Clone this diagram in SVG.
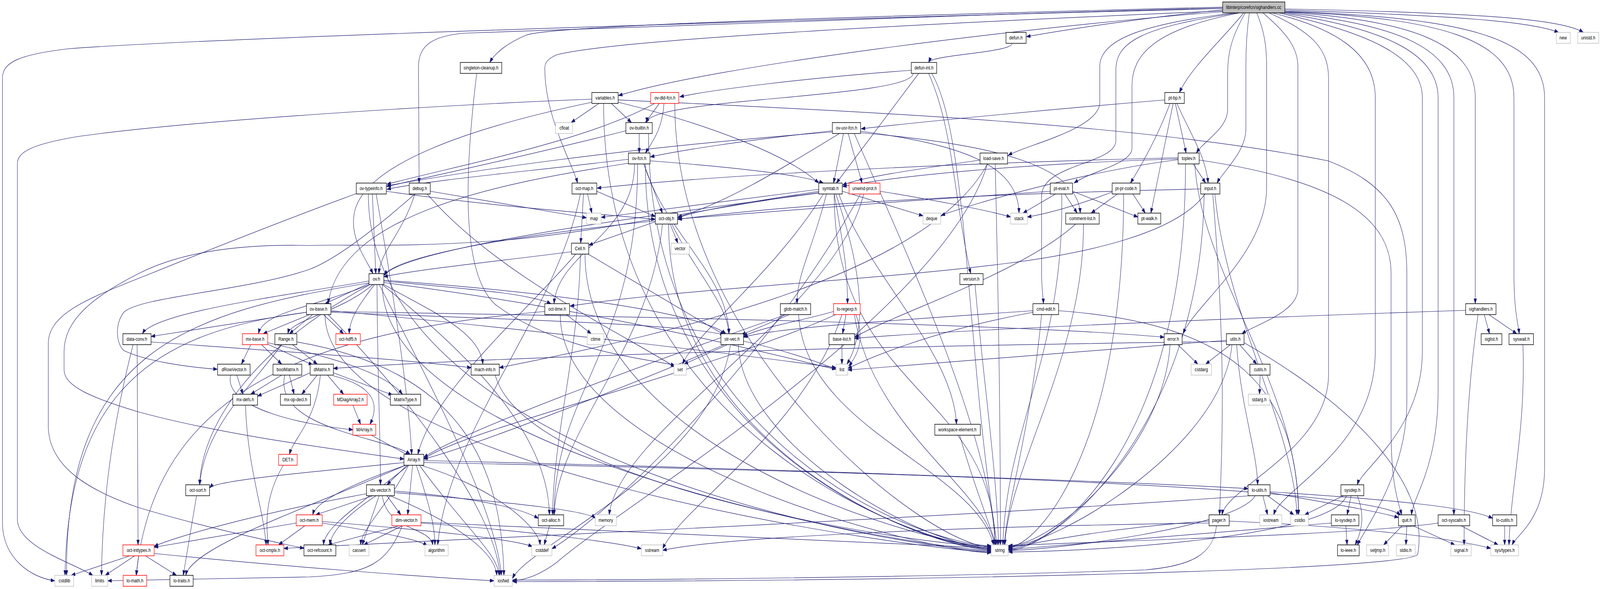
<svg xmlns="http://www.w3.org/2000/svg" width="5169" height="1509" viewBox="0 0 5169 1509" preserveAspectRatio="none">
<style>
svg{width:100vw;height:100vh}
.edges path{fill:none;stroke:#191970;stroke-width:1.2;marker-end:url(#a)}
.node rect{stroke-width:1.5;fill:#fff}
.k{stroke:#000}
.g{stroke:#bfbfbf}
.r{stroke:#ff0000}
.root rect{fill:#bfbfbf;stroke:#000}
.node text{font-family:"Liberation Sans",Arial,sans-serif;font-size:13px;text-anchor:middle;fill:#000}
</style>
<defs>
<marker id="a" markerWidth="14" markerHeight="10" refX="13" refY="5" orient="auto" markerUnits="userSpaceOnUse">
<path d="M0,0.5 L13,5 L0,9.5 z" fill="#191970" stroke="#191970" stroke-width="1"/>
</marker>
</defs>
<rect width="5169" height="1509" fill="#fff"/>
<g id="edges" class="edges">
<path d="M3950,22 C2800,45 700,95 220,125 C60,140 8,160 8,200 L8,1340 C8,1430 100,1480 177,1488"/>
<path d="M4110,33 C4300,70 4443,130 4443,250 L4443,900 C4443,1150 4140,1250 4115,1319"/>
<path d="M4151,26 C4700,40 4950,55 5035,83"/>
<path d="M4151,29 C4750,45 4990,100 4990,250 L4990,1200 C4990,1330 4900,1370 4885,1396"/>
<path d="M4151,23 C4800,33 5050,50 5115,83"/>
<path d="M4000,33 C3680,70 3605,110 3605,180 L3605,360 C3605,420 3370,420 3365,500 L3365,700 C3365,740 3370,760 3371,778"/>
<path d="M4145,32 C4500,60 4697,120 4697,250 L4697,1319"/>
<path d="M4140,33 C4450,70 4646,130 4646,250 L4646,1000 C4646,1200 4565,1270 4560,1319"/>
<path d="M3950,18 C3000,38 1800,62 1700,90 C1640,110 1600,135 1582,160"/>
<path d="M3950,20 C3000,42 1800,70 1500,85 C1400,92 1352,115 1352,170 L1354,469"/>
<path d="M3950,25 C3700,45 3450,75 3316,94"/>
<path d="M4060,33 C4085,80 4092,120 4092,170 L4092,480 C4092,650 3860,780 3822,855"/>
<path d="M4036,33 C4028,80 4025,130 4025,170 L4025,330 C4025,390 3950,440 3932,469"/>
<path d="M3990,33 C3700,60 3553,100 3553,170 L3553,262 C3553,330 3320,370 3257,398"/>
<path d="M3950,28 C3000,60 2000,100 1800,140 C1770,150 1760,160 1760,175 C1760,300 1850,420 1866,469"/>
<path d="M4100,33 C4230,80 4292,120 4292,200 L4292,960 C4292,1150 3960,1250 3948,1319"/>
<path d="M4018,33 C3950,100 3850,170 3810,237"/>
<path d="M4005,33 C3730,75 3657,140 3657,220 L3657,380 C3657,420 3520,440 3470,469"/>
<path d="M4148,31 C4550,50 4766,110 4766,250 L4766,778"/>
<path d="M4130,33 C4400,80 4595,140 4595,250 L4595,900 C4595,1100 4400,1200 4385,1242"/>
<path d="M4150,30 C4650,45 4891,100 4891,250 L4891,700 C4891,800 4905,830 4908,855"/>
<path d="M4023,33 C3975,100 3966,140 3966,190 L3966,280 C3966,330 3890,360 3865,392"/>
<path d="M4080,33 C4150,80 4193,120 4193,170 L4193,740 C4193,800 4060,830 4012,855"/>
<path d="M3950,30 C3300,70 2300,170 1998,245"/>
<path d="M3270,111 C3270,135 3010,140 3000,160"/>
<path d="M2950,188 C2950,251 2090,251 2090,314"/>
<path d="M2944,180 C2600,200 2300,230 2196,248"/>
<path d="M2968,188 L2702,469"/>
<path d="M3000,188 C3080,330 3080,500 3136,701"/>
<path d="M3010,188 C3130,350 3120,900 3222,1396"/>
<path d="M1540,188 C1500,450 1490,700 1600,780 C1800,900 2100,920 2180,936"/>
<path d="M1912,254 C1400,270 600,310 250,350 C100,370 56,390 56,420 L56,1330 C56,1400 230,1440 300,1474"/>
<path d="M1912,262 C1500,330 1200,420 1150,530 C1120,600 1180,660 1205,701"/>
<path d="M1935,265 L1845,314"/>
<path d="M1975,265 L2040,314"/>
<path d="M1997,262 C2300,320 2550,400 2645,469"/>
<path d="M1950,265 C1950,1124 3000,1404 3202,1404"/>
<path d="M1997,256 C2900,290 3700,320 4290,412 C4480,470 4545,550 4545,700 L4545,1030 C4545,1200 4430,1330 4385,1396"/>
<path d="M2115,265 C1900,360 1500,420 1250,472"/>
<path d="M2130,265 L2085,314"/>
<path d="M2145,265 C2140,330 2110,360 2085,392"/>
<path d="M2180,265 C2180,900 3000,1402 3202,1402"/>
<path d="M2022,335 C1700,400 1400,450 1250,478"/>
<path d="M2065,342 L2065,392"/>
<path d="M2095,342 C2095,1150 3000,1398 3202,1398"/>
<path d="M3763,256 C3400,280 3000,310 2782,330"/>
<path d="M3780,265 C3740,350 3690,420 3652,469"/>
<path d="M3790,265 L3718,546"/>
<path d="M3797,265 L3832,392"/>
<path d="M3802,265 C3850,350 3895,400 3903,469"/>
<path d="M2030,408 C1700,440 1400,460 1250,485"/>
<path d="M2032,418 C1600,470 1100,550 1060,778"/>
<path d="M2050,420 C2050,600 1800,650 1790,778"/>
<path d="M2080,420 C2150,600 2350,700 2355,855"/>
<path d="M2060,420 C2060,900 1790,1000 1790,1319"/>
<path d="M2080,420 L2140,546"/>
<path d="M2100,412 C2400,430 2600,450 2660,469"/>
<path d="M2085,420 C2085,1150 3000,1406 3202,1406"/>
<path d="M2690,335 C2400,360 2200,385 2101,402"/>
<path d="M2690,338 C2000,380 1500,440 1250,476"/>
<path d="M2725,342 L2693,469"/>
<path d="M2740,342 L2785,469"/>
<path d="M2712,342 C2550,420 2350,520 2190,556"/>
<path d="M2780,336 C3100,370 3290,420 3292,546"/>
<path d="M2780,340 C3200,370 3480,420 3490,546"/>
<path d="M2760,342 C2900,600 3200,1100 3215,1396"/>
<path d="M3166,410 C3000,430 2800,450 2722,474"/>
<path d="M3190,420 C3050,800 2000,1300 1800,1440 C1750,1470 1700,1486 1656,1488"/>
<path d="M3215,420 C3230,900 3232,1200 3232,1396"/>
<path d="M3190,420 C3000,700 2200,850 1613,942"/>
<path d="M3860,420 C3880,700 4200,1000 4195,1319"/>
<path d="M3806,409 C3500,440 3150,520 3040,552"/>
<path d="M3830,420 C3830,1150 3400,1406 3258,1406"/>
<path d="M3874,410 C4300,460 4494,550 4494,700 L4494,1100 C4494,1250 4520,1290 4528,1319"/>
<path d="M3855,420 L3895,469"/>
<path d="M3806,404 C3000,420 2300,450 1929,482"/>
<path d="M3806,407 C3300,420 2900,450 2722,478"/>
<path d="M3925,497 C3960,800 4180,1100 4190,1319"/>
<path d="M3890,497 C3880,1100 3400,1410 3258,1410"/>
<path d="M3893,497 C3800,600 3500,650 3250,675 C2800,720 2200,740 1842,784"/>
<path d="M3879,484 C3000,500 2500,530 2190,562"/>
<path d="M3918,497 C3960,900 3950,1100 3940,1319"/>
<path d="M1390,490 L1895,558"/>
<path d="M1380,497 C1600,700 2000,850 2180,940"/>
<path d="M1340,497 C1300,600 1230,640 1224,701"/>
<path d="M1339,498 C1250,560 1100,660 1000,690 C800,745 450,760 400,800 C370,830 375,880 400,898 C470,925 600,940 702,946"/>
<path d="M1898,497 L1912,546"/>
<path d="M1928,490 L2117,555"/>
<path d="M1885,497 L1876,623"/>
<path d="M1875,497 C1800,800 1450,1100 1414,1396"/>
<path d="M1203,497 L1214,701"/>
<path d="M1215,497 C1260,700 1320,1000 1330,1164"/>
<path d="M1248,490 C1600,530 1900,545 2117,562"/>
<path d="M1190,497 C1190,1200 3000,1412 3202,1412"/>
<path d="M1151,496 C1000,540 800,600 480,703 C300,760 156,800 156,880 L156,1091 C156,1200 300,1260 446,1300 C700,1360 900,1390 982,1405"/>
<path d="M2721,490 L2982,553"/>
<path d="M2700,497 C2790,700 2800,850 2736,933"/>
<path d="M2645,485 C2300,520 2100,540 1942,557"/>
<path d="M2660,497 C2500,700 2250,850 2205,933"/>
<path d="M2695,497 C2695,1000 3210,1000 3215,1396"/>
<path d="M2670,497 C2620,650 2575,700 2575,778"/>
<path d="M2695,497 C2730,650 2738,700 2738,778"/>
<path d="M2645,490 C2400,520 2250,540 2190,558"/>
<path d="M2710,497 C2800,700 3080,900 3090,1087"/>
<path d="M2645,493 C2300,530 1900,600 1600,617 C1300,635 1100,625 1000,629 C800,625 600,640 450,700 C300,760 207,820 207,900 L207,948 C207,990 300,1020 446,1055 C700,1110 1000,1142 1305,1176"/>
<path d="M2645,495 C2000,560 1300,640 1240,706"/>
<path d="M2843,490 C3000,510 3200,540 3265,556"/>
<path d="M2780,497 C2500,900 2000,1300 1783,1406"/>
<path d="M2790,497 C2700,800 2000,1100 1968,1319"/>
<path d="M3393,490 C3000,510 2500,540 2190,561"/>
<path d="M3410,497 L3305,546"/>
<path d="M3440,497 L3480,546"/>
<path d="M3465,490 L3676,556"/>
<path d="M3430,497 C3440,900 3250,1100 3240,1396"/>
<path d="M3593,492 C3500,520 3400,545 3319,556"/>
<path d="M3610,497 L3525,546"/>
<path d="M3660,497 L3700,546"/>
<path d="M3630,497 C3630,1150 3350,1402 3258,1402"/>
<path d="M3475,574 C3300,700 2900,800 2761,864"/>
<path d="M3500,574 C3505,900 3260,1200 3246,1396"/>
<path d="M3150,729 C3180,1000 3220,1200 3226,1396"/>
<path d="M2160,574 C2160,1150 3000,1408 3202,1408"/>
<path d="M2165,574 L2190,623"/>
<path d="M2140,574 C2100,900 1800,1100 1790,1319"/>
<path d="M2170,574 C2250,700 2350,780 2355,855"/>
<path d="M2117,568 L1902,628"/>
<path d="M2117,566 C1700,600 1300,650 1240,704"/>
<path d="M1890,651 C1890,1150 3000,1400 3202,1400"/>
<path d="M1860,651 C1700,800 1400,1000 1350,1164"/>
<path d="M1875,651 C1870,900 1790,1100 1785,1319"/>
<path d="M1900,651 L2340,858"/>
<path d="M1846,645 C1600,670 1350,690 1240,709"/>
<path d="M1192,725 C600,800 210,900 215,1474"/>
<path d="M1225,729 C1400,1000 1600,1300 1620,1474"/>
<path d="M1235,729 C1235,1180 3000,1410 3202,1410"/>
<path d="M1240,724 C2000,800 2600,930 2701,946"/>
<path d="M1205,729 C1100,800 940,820 930,855"/>
<path d="M1192,720 C900,760 500,800 460,855"/>
<path d="M1218,729 C1220,1000 1229,1100 1229,1242"/>
<path d="M1240,729 C1400,800 1550,850 1560,933"/>
<path d="M1195,729 C1000,790 850,800 835,855"/>
<path d="M1235,729 C1500,900 1770,1100 1775,1319"/>
<path d="M1240,720 C1500,740 1700,750 1780,778"/>
<path d="M1240,718 C1800,750 2250,800 2345,855"/>
<path d="M1210,729 C1150,790 1130,820 1128,855"/>
<path d="M1195,729 C800,900 650,1100 645,1242"/>
<path d="M1195,725 L1050,778"/>
<path d="M990,800 C500,850 220,1000 210,1474"/>
<path d="M1060,806 C1300,1000 1600,1300 1615,1474"/>
<path d="M1069,796 C1800,850 2500,920 2701,942"/>
<path d="M1050,806 C1050,1200 3000,1414 3202,1414"/>
<path d="M1010,806 L935,855"/>
<path d="M990,800 L488,862"/>
<path d="M1000,806 L850,855"/>
<path d="M1069,800 C1700,820 2200,830 2340,858"/>
<path d="M1069,798 C2000,810 3300,830 3761,864"/>
<path d="M1045,806 L1110,855"/>
<path d="M1830,806 L1910,855"/>
<path d="M1810,806 C1810,1180 3000,1416 3202,1416"/>
<path d="M1760,798 C1000,850 500,1000 440,1474"/>
<path d="M2540,806 C2200,900 1500,1100 1369,1172"/>
<path d="M2550,806 L2395,858"/>
<path d="M2580,806 C2600,1100 3150,1200 3210,1396"/>
<path d="M2765,806 C2790,860 2780,900 2742,938"/>
<path d="M2720,806 C2600,1100 2200,1300 2141,1406"/>
<path d="M2760,806 C2820,1100 3180,1250 3214,1396"/>
<path d="M2700,806 C2300,950 1500,1100 1369,1176"/>
<path d="M2733,806 L2722,855"/>
<path d="M2693,798 C2600,820 2450,840 2402,862"/>
<path d="M3420,796 C4000,830 4190,1000 4195,1319"/>
<path d="M3337,800 C3000,850 2800,920 2739,944"/>
<path d="M3365,806 C3330,1100 3250,1300 3245,1396"/>
<path d="M3337,796 C2900,820 2500,840 2402,864"/>
<path d="M4735,795 C3800,820 3000,850 2761,867"/>
<path d="M4795,806 L4812,855"/>
<path d="M4810,806 L4900,855"/>
<path d="M4775,806 C4740,1000 4730,1200 4730,1396"/>
<path d="M430,883 C360,1100 330,1300 328,1474"/>
<path d="M443,883 L446,1396"/>
<path d="M488,876 C900,900 1300,920 1522,942"/>
<path d="M810,883 L780,933"/>
<path d="M845,883 L910,933"/>
<path d="M860,880 L1010,935"/>
<path d="M865,878 C1100,920 1250,960 1300,1010"/>
<path d="M945,883 L1025,933"/>
<path d="M910,883 C800,1000 660,1100 645,1242"/>
<path d="M959,876 C1500,950 1620,1200 1628,1474"/>
<path d="M2360,883 C2300,1200 1700,1400 1656,1482"/>
<path d="M2402,874 C2550,900 2650,930 2701,946"/>
<path d="M2350,883 L2210,933"/>
<path d="M2385,883 C2400,1150 3000,1404 3202,1404"/>
<path d="M2340,883 C2000,1000 1500,1150 1369,1176"/>
<path d="M2720,883 L2720,933"/>
<path d="M3805,883 L3870,933"/>
<path d="M3780,883 C3760,1150 3400,1398 3258,1398"/>
<path d="M3975,883 L3895,933"/>
<path d="M4005,883 L4060,933"/>
<path d="M3995,883 C4010,1050 4060,1150 4063,1242"/>
<path d="M4019,878 C4400,1050 4620,1250 4580,1420 C4560,1460 3000,1490 1656,1490"/>
<path d="M3962,872 C3500,900 3000,930 2739,948"/>
<path d="M3980,883 C3950,1150 3400,1400 3258,1400"/>
<path d="M3962,875 C2500,890 1500,920 1077,944"/>
<path d="M4920,883 C4930,1100 4880,1250 4875,1396"/>
<path d="M765,961 L785,1010"/>
<path d="M745,961 C720,1050 1000,1090 1140,1101"/>
<path d="M910,961 L810,1010"/>
<path d="M935,961 L950,1010"/>
<path d="M920,961 C880,1100 1250,1120 1325,1164"/>
<path d="M1002,955 L832,1015"/>
<path d="M1025,961 L975,1010"/>
<path d="M1058,961 L1110,1010"/>
<path d="M1077,963 C1215,990 1225,1040 1195,1087"/>
<path d="M1077,955 L1268,1012"/>
<path d="M1035,961 C1020,1080 950,1120 935,1164"/>
<path d="M1600,961 C1700,1250 3000,1400 3202,1400"/>
<path d="M4071,961 L4069,1010"/>
<path d="M793,1038 C800,1200 850,1300 860,1396"/>
<path d="M1140,1038 L1165,1087"/>
<path d="M1200,1115 L1322,1168"/>
<path d="M3100,1115 C3150,1250 3200,1350 3218,1396"/>
<path d="M915,1192 C850,1280 862,1350 866,1396"/>
<path d="M1320,1192 C1250,1300 1170,1350 1165,1396"/>
<path d="M1360,1192 C1600,1250 1740,1350 1745,1396"/>
<path d="M1345,1192 C1390,1300 1405,1350 1405,1396"/>
<path d="M1355,1192 C1500,1350 1610,1420 1612,1474"/>
<path d="M1305,1185 C1000,1210 700,1230 677,1250"/>
<path d="M1315,1192 L1250,1242"/>
<path d="M1333,1192 L1317,1319"/>
<path d="M1310,1192 C1000,1300 620,1400 600,1474"/>
<path d="M1369,1180 C2500,1200 3800,1240 4032,1252"/>
<path d="M1369,1185 C3000,1210 4400,1250 4525,1319"/>
<path d="M1310,1192 C1100,1250 1020,1290 1010,1319"/>
<path d="M1320,1192 C1150,1300 1050,1350 1045,1396"/>
<path d="M1225,1270 L1170,1396"/>
<path d="M1235,1270 C1250,1360 1390,1350 1398,1396"/>
<path d="M1260,1270 C1500,1350 1600,1420 1605,1474"/>
<path d="M1274,1262 C1700,1290 1900,1310 1923,1328"/>
<path d="M1250,1270 L1295,1319"/>
<path d="M1184,1265 C800,1320 550,1380 498,1400"/>
<path d="M1274,1258 C1600,1280 1700,1310 1739,1328"/>
<path d="M1205,1270 L1020,1319"/>
<path d="M1215,1270 C1100,1330 1070,1370 1065,1396"/>
<path d="M635,1270 L592,1474"/>
<path d="M4080,1270 L4095,1319"/>
<path d="M4095,1270 L4180,1319"/>
<path d="M4103,1262 C4300,1290 4450,1310 4518,1326"/>
<path d="M4103,1260 C4500,1280 4750,1300 4822,1328"/>
<path d="M4055,1270 C4000,1350 3400,1410 3258,1410"/>
<path d="M4040,1270 C3000,1330 1500,1380 917,1405"/>
<path d="M4340,1270 L4215,1319"/>
<path d="M4350,1270 C4300,1380 3500,1414 3258,1414"/>
<path d="M4385,1270 C4410,1320 4400,1360 4378,1396"/>
<path d="M4365,1270 L4352,1319"/>
<path d="M985,1347 L900,1396"/>
<path d="M957,1340 L498,1402"/>
<path d="M1041,1340 C1200,1360 1350,1380 1380,1398"/>
<path d="M1041,1336 C1400,1360 1650,1380 1720,1400"/>
<path d="M1300,1347 L1175,1396"/>
<path d="M1290,1347 L1060,1396"/>
<path d="M1300,1347 C1250,1440 1200,1470 1000,1478 C700,1484 450,1486 348,1488"/>
<path d="M1360,1340 C1700,1360 2000,1390 2072,1406"/>
<path d="M1360,1338 C2000,1360 3000,1400 3202,1404"/>
<path d="M1775,1347 L1758,1396"/>
<path d="M3930,1347 C3920,1420 3850,1450 3700,1460 C3000,1480 2000,1486 1656,1486"/>
<path d="M3906,1340 C3000,1350 2300,1380 2141,1410"/>
<path d="M3906,1335 C3600,1350 3350,1390 3258,1404"/>
<path d="M3971,1335 C4400,1350 4700,1380 4816,1405"/>
<path d="M4301,1340 C3800,1370 3400,1400 3258,1408"/>
<path d="M4348,1347 L4352,1396"/>
<path d="M4530,1347 L4470,1396"/>
<path d="M4545,1347 L4542,1396"/>
<path d="M4565,1347 L4700,1396"/>
<path d="M4646,1340 C4400,1370 3600,1385 3258,1398"/>
<path d="M4720,1347 L4840,1396"/>
<path d="M4861,1347 L4861,1396"/>
<path d="M420,1424 L230,1474"/>
<path d="M435,1424 L340,1474"/>
<path d="M448,1424 L440,1474"/>
<path d="M470,1424 L570,1474"/>
<path d="M498,1418 C900,1450 1400,1480 1596,1488"/>
</g>
<g id="n-sighandlers-cc" class="node root"><rect x="3950" y="5" width="201" height="28"/><text x="4050" y="23.5">libinterp/corefcn/sighandlers.cc</text></g>
<g id="n-defun" class="node"><rect class="k" x="3250" y="83" width="65" height="28"/><text x="3282" y="101.5">defun.h</text></g>
<g id="n-new" class="node"><rect class="g" x="5028" y="83" width="45" height="28"/><text x="5050" y="101.5">new</text></g>
<g id="n-unistd" class="node"><rect class="g" x="5097" y="83" width="68" height="28"/><text x="5131" y="101.5">unistd.h</text></g>
<g id="n-singleton-cleanup" class="node"><rect class="k" x="1487" y="160" width="134" height="28"/><text x="1554" y="178.5">singleton-cleanup.h</text></g>
<g id="n-defun-int" class="node"><rect class="k" x="2944" y="160" width="82" height="28"/><text x="2985" y="178.5">defun-int.h</text></g>
<g id="n-variables" class="node"><rect class="k" x="1912" y="237" width="85" height="28"/><text x="1955" y="255.5">variables.h</text></g>
<g id="n-ov-dld-fcn" class="node"><rect class="r" x="2102" y="237" width="91" height="28"/><text x="2148" y="255.5">ov-dld-fcn.h</text></g>
<g id="n-pt-bp" class="node"><rect class="k" x="3763" y="237" width="63" height="28"/><text x="3795" y="255.5">pt-bp.h</text></g>
<g id="n-cfloat" class="node"><rect class="g" x="1795" y="314" width="55" height="28"/><text x="1823" y="332.5">cfloat</text></g>
<g id="n-ov-builtin" class="node"><rect class="k" x="2022" y="314" width="85" height="28"/><text x="2065" y="332.5">ov-builtin.h</text></g>
<g id="n-ov-usr-fcn" class="node"><rect class="k" x="2689" y="314" width="91" height="28"/><text x="2735" y="332.5">ov-usr-fcn.h</text></g>
<g id="n-ov-fcn" class="node"><rect class="k" x="2030" y="392" width="70" height="28"/><text x="2065" y="410.5">ov-fcn.h</text></g>
<g id="n-load-save" class="node"><rect class="k" x="3166" y="392" width="89" height="28"/><text x="3210" y="410.5">load-save.h</text></g>
<g id="n-toplev" class="node"><rect class="k" x="3806" y="392" width="68" height="28"/><text x="3840" y="410.5">toplev.h</text></g>
<g id="n-ov-typeinfo" class="node"><rect class="k" x="1151" y="469" width="97" height="28"/><text x="1199" y="487.5">ov-typeinfo.h</text></g>
<g id="n-debug" class="node"><rect class="k" x="1322" y="469" width="68" height="28"/><text x="1356" y="487.5">debug.h</text></g>
<g id="n-oct-map" class="node"><rect class="k" x="1848" y="469" width="80" height="28"/><text x="1888" y="487.5">oct-map.h</text></g>
<g id="n-symtab" class="node"><rect class="k" x="2645" y="469" width="76" height="28"/><text x="2683" y="487.5">symtab.h</text></g>
<g id="n-unwind-prot" class="node"><rect class="r" x="2743" y="469" width="100" height="28"/><text x="2793" y="487.5">unwind-prot.h</text></g>
<g id="n-pt-eval" class="node"><rect class="k" x="3393" y="469" width="72" height="28"/><text x="3429" y="487.5">pt-eval.h</text></g>
<g id="n-pt-pr-code" class="node"><rect class="k" x="3593" y="469" width="90" height="28"/><text x="3638" y="487.5">pt-pr-code.h</text></g>
<g id="n-input" class="node"><rect class="k" x="3879" y="469" width="62" height="28"/><text x="3910" y="487.5">input.h</text></g>
<g id="n-map" class="node"><rect class="g" x="1895" y="546" width="47" height="28"/><text x="1919" y="564.5">map</text></g>
<g id="n-oct-obj" class="node"><rect class="k" x="2117" y="546" width="72" height="28"/><text x="2153" y="564.5">oct-obj.h</text></g>
<g id="n-deque" class="node"><rect class="g" x="2982" y="546" width="57" height="28"/><text x="3010" y="564.5">deque</text></g>
<g id="n-stack" class="node"><rect class="g" x="3265" y="546" width="54" height="28"/><text x="3292" y="564.5">stack</text></g>
<g id="n-comment-list" class="node"><rect class="k" x="3443" y="546" width="108" height="28"/><text x="3497" y="564.5">comment-list.h</text></g>
<g id="n-pt-walk" class="node"><rect class="k" x="3676" y="546" width="74" height="28"/><text x="3713" y="564.5">pt-walk.h</text></g>
<g id="n-Cell" class="node"><rect class="k" x="1846" y="623" width="56" height="28"/><text x="1874" y="641.5">Cell.h</text></g>
<g id="n-vector" class="node"><rect class="g" x="2168" y="623" width="59" height="28"/><text x="2197" y="641.5">vector</text></g>
<g id="n-ov" class="node"><rect class="k" x="1192" y="701" width="48" height="28"/><text x="1216" y="719.5">ov.h</text></g>
<g id="n-version" class="node"><rect class="k" x="3101" y="701" width="75" height="28"/><text x="3138" y="719.5">version.h</text></g>
<g id="n-ov-base" class="node"><rect class="k" x="990" y="778" width="79" height="28"/><text x="1029" y="796.5">ov-base.h</text></g>
<g id="n-oct-time" class="node"><rect class="k" x="1760" y="778" width="80" height="28"/><text x="1800" y="796.5">oct-time.h</text></g>
<g id="n-glob-match" class="node"><rect class="k" x="2521" y="778" width="98" height="28"/><text x="2570" y="796.5">glob-match.h</text></g>
<g id="n-lo-regexp" class="node"><rect class="r" x="2693" y="778" width="86" height="28"/><text x="2736" y="796.5">lo-regexp.h</text></g>
<g id="n-cmd-edit" class="node"><rect class="k" x="3337" y="778" width="83" height="28"/><text x="3379" y="796.5">cmd-edit.h</text></g>
<g id="n-sighandlers-h" class="node"><rect class="k" x="4735" y="778" width="98" height="28"/><text x="4784" y="796.5">sighandlers.h</text></g>
<g id="n-data-conv" class="node"><rect class="k" x="397" y="855" width="91" height="28"/><text x="442" y="873.5">data-conv.h</text></g>
<g id="n-mx-base" class="node"><rect class="r" x="783" y="855" width="82" height="28"/><text x="824" y="873.5">mx-base.h</text></g>
<g id="n-Range" class="node"><rect class="k" x="888" y="855" width="71" height="28"/><text x="924" y="873.5">Range.h</text></g>
<g id="n-oct-hdf5" class="node"><rect class="r" x="1085" y="855" width="79" height="28"/><text x="1124" y="873.5">oct-hdf5.h</text></g>
<g id="n-ctime" class="node"><rect class="g" x="1897" y="855" width="54" height="28"/><text x="1924" y="873.5">ctime</text></g>
<g id="n-str-vec" class="node"><rect class="k" x="2329" y="855" width="73" height="28"/><text x="2365" y="873.5">str-vec.h</text></g>
<g id="n-base-list" class="node"><rect class="k" x="2678" y="855" width="83" height="28"/><text x="2720" y="873.5">base-list.h</text></g>
<g id="n-error" class="node"><rect class="k" x="3761" y="855" width="58" height="28"/><text x="3790" y="873.5">error.h</text></g>
<g id="n-utils" class="node"><rect class="k" x="3962" y="855" width="57" height="28"/><text x="3991" y="873.5">utils.h</text></g>
<g id="n-siglist" class="node"><rect class="k" x="4785" y="855" width="67" height="28"/><text x="4818" y="873.5">siglist.h</text></g>
<g id="n-syswait" class="node"><rect class="k" x="4875" y="855" width="79" height="28"/><text x="4915" y="873.5">syswait.h</text></g>
<g id="n-dRowVector" class="node"><rect class="k" x="703" y="933" width="105" height="28"/><text x="756" y="951.5">dRowVector.h</text></g>
<g id="n-boolMatrix" class="node"><rect class="k" x="882" y="933" width="93" height="28"/><text x="929" y="951.5">boolMatrix.h</text></g>
<g id="n-dMatrix" class="node"><rect class="k" x="1002" y="933" width="75" height="28"/><text x="1040" y="951.5">dMatrix.h</text></g>
<g id="n-mach-info" class="node"><rect class="k" x="1522" y="933" width="91" height="28"/><text x="1567" y="951.5">mach-info.h</text></g>
<g id="n-set" class="node"><rect class="g" x="2177" y="933" width="40" height="28"/><text x="2197" y="951.5">set</text></g>
<g id="n-list" class="node"><rect class="g" x="2701" y="933" width="38" height="28"/><text x="2720" y="951.5">list</text></g>
<g id="n-cstdarg" class="node"><rect class="g" x="3848" y="933" width="66" height="28"/><text x="3881" y="951.5">cstdarg</text></g>
<g id="n-cutils" class="node"><rect class="k" x="4038" y="933" width="65" height="28"/><text x="4071" y="951.5">cutils.h</text></g>
<g id="n-mx-defs" class="node"><rect class="k" x="752" y="1010" width="80" height="28"/><text x="792" y="1028.5">mx-defs.h</text></g>
<g id="n-mx-op-decl" class="node"><rect class="k" x="906" y="1010" width="97" height="28"/><text x="955" y="1028.5">mx-op-decl.h</text></g>
<g id="n-MDiagArray2" class="node"><rect class="r" x="1078" y="1010" width="108" height="28"/><text x="1132" y="1028.5">MDiagArray2.h</text></g>
<g id="n-MatrixType" class="node"><rect class="k" x="1261" y="1010" width="98" height="28"/><text x="1310" y="1028.5">MatrixType.h</text></g>
<g id="n-stdarg" class="node"><rect class="g" x="4033" y="1010" width="69" height="28"/><text x="4068" y="1028.5">stdarg.h</text></g>
<g id="n-MArray" class="node"><rect class="r" x="1140" y="1087" width="74" height="28"/><text x="1177" y="1105.5">MArray.h</text></g>
<g id="n-workspace-element" class="node"><rect class="k" x="3020" y="1087" width="147" height="28"/><text x="3093" y="1105.5">workspace-element.h</text></g>
<g id="n-DET" class="node"><rect class="r" x="900" y="1164" width="60" height="28"/><text x="930" y="1182.5">DET.h</text></g>
<g id="n-Array" class="node"><rect class="k" x="1305" y="1164" width="64" height="28"/><text x="1337" y="1182.5">Array.h</text></g>
<g id="n-oct-sort" class="node"><rect class="k" x="600" y="1242" width="77" height="28"/><text x="639" y="1260.5">oct-sort.h</text></g>
<g id="n-idx-vector" class="node"><rect class="k" x="1184" y="1242" width="90" height="28"/><text x="1229" y="1260.5">idx-vector.h</text></g>
<g id="n-lo-utils" class="node"><rect class="k" x="4032" y="1242" width="71" height="28"/><text x="4068" y="1260.5">lo-utils.h</text></g>
<g id="n-sysdep" class="node"><rect class="k" x="4332" y="1242" width="74" height="28"/><text x="4369" y="1260.5">sysdep.h</text></g>
<g id="n-oct-mem" class="node"><rect class="r" x="957" y="1319" width="84" height="28"/><text x="999" y="1337.5">oct-mem.h</text></g>
<g id="n-dim-vector" class="node"><rect class="r" x="1266" y="1319" width="94" height="28"/><text x="1313" y="1337.5">dim-vector.h</text></g>
<g id="n-oct-alloc" class="node"><rect class="k" x="1739" y="1319" width="82" height="28"/><text x="1780" y="1337.5">oct-alloc.h</text></g>
<g id="n-memory" class="node"><rect class="g" x="1923" y="1319" width="68" height="28"/><text x="1957" y="1337.5">memory</text></g>
<g id="n-pager" class="node"><rect class="k" x="3906" y="1319" width="65" height="28"/><text x="3938" y="1337.5">pager.h</text></g>
<g id="n-iostream" class="node"><rect class="g" x="4070" y="1319" width="71" height="28"/><text x="4106" y="1337.5">iostream</text></g>
<g id="n-cstdio" class="node"><rect class="g" x="4170" y="1319" width="57" height="28"/><text x="4199" y="1337.5">cstdio</text></g>
<g id="n-lo-sysdep" class="node"><rect class="k" x="4301" y="1319" width="89" height="28"/><text x="4346" y="1337.5">lo-sysdep.h</text></g>
<g id="n-quit" class="node"><rect class="k" x="4518" y="1319" width="54" height="28"/><text x="4545" y="1337.5">quit.h</text></g>
<g id="n-oct-syscalls" class="node"><rect class="k" x="4646" y="1319" width="102" height="28"/><text x="4697" y="1337.5">oct-syscalls.h</text></g>
<g id="n-lo-cutils" class="node"><rect class="k" x="4822" y="1319" width="78" height="28"/><text x="4861" y="1337.5">lo-cutils.h</text></g>
<g id="n-oct-inttypes" class="node"><rect class="r" x="397" y="1396" width="101" height="28"/><text x="448" y="1414.5">oct-inttypes.h</text></g>
<g id="n-oct-cmplx" class="node"><rect class="r" x="827" y="1396" width="90" height="28"/><text x="872" y="1414.5">oct-cmplx.h</text></g>
<g id="n-oct-refcount" class="node"><rect class="k" x="982" y="1396" width="103" height="28"/><text x="1033" y="1414.5">oct-refcount.h</text></g>
<g id="n-cassert" class="node"><rect class="g" x="1128" y="1396" width="64" height="28"/><text x="1160" y="1414.5">cassert</text></g>
<g id="n-algorithm" class="node"><rect class="g" x="1373" y="1396" width="75" height="28"/><text x="1410" y="1414.5">algorithm</text></g>
<g id="n-cstddef" class="node"><rect class="g" x="1718" y="1396" width="65" height="28"/><text x="1751" y="1414.5">cstddef</text></g>
<g id="n-sstream" class="node"><rect class="g" x="2072" y="1396" width="69" height="28"/><text x="2107" y="1414.5">sstream</text></g>
<g id="n-string" class="node"><rect class="g" x="3202" y="1396" width="55" height="28"/><text x="3230" y="1414.5">string</text></g>
<g id="n-lo-ieee" class="node"><rect class="k" x="4321" y="1396" width="70" height="28"/><text x="4356" y="1414.5">lo-ieee.h</text></g>
<g id="n-setjmp" class="node"><rect class="g" x="4415" y="1396" width="71" height="28"/><text x="4451" y="1414.5">setjmp.h</text></g>
<g id="n-stdio" class="node"><rect class="g" x="4511" y="1396" width="61" height="28"/><text x="4541" y="1414.5">stdio.h</text></g>
<g id="n-signal" class="node"><rect class="g" x="4687" y="1396" width="66" height="28"/><text x="4720" y="1414.5">signal.h</text></g>
<g id="n-sys-types" class="node"><rect class="g" x="4816" y="1396" width="90" height="28"/><text x="4861" y="1414.5">sys/types.h</text></g>
<g id="n-cstdlib" class="node"><rect class="g" x="177" y="1474" width="61" height="28"/><text x="208" y="1492.5">cstdlib</text></g>
<g id="n-limits" class="node"><rect class="g" x="296" y="1474" width="52" height="28"/><text x="322" y="1492.5">limits</text></g>
<g id="n-lo-math" class="node"><rect class="r" x="398" y="1474" width="76" height="28"/><text x="436" y="1492.5">lo-math.h</text></g>
<g id="n-lo-traits" class="node"><rect class="k" x="549" y="1474" width="75" height="28"/><text x="587" y="1492.5">lo-traits.h</text></g>
<g id="n-iosfwd" class="node"><rect class="g" x="1596" y="1474" width="59" height="28"/><text x="1626" y="1492.5">iosfwd</text></g>
</svg>
